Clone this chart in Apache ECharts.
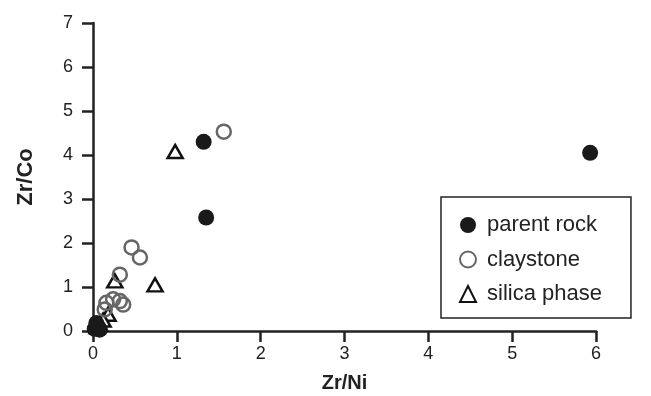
<!DOCTYPE html>
<html><head><meta charset="utf-8">
<script src="https://cdn.jsdelivr.net/npm/echarts@6/dist/echarts.min.js"></script>
<style>html,body{margin:0;padding:0;background:#fff}#c{width:651px;height:396px}</style>
</head><body><div id="c"></div>
<script>
const xTitle = 'Zr/Ni';
const yTitle = 'Zr/Co';
const seriesNames = ['parent rock', 'claystone', 'silica phase'];
const parentRock = [[1.32,4.30],[1.35,2.58],[5.93,4.05],[0.02,0.05],[0.06,0.10],[0.04,0.18],[0.08,0.03]];
const claystone = [[1.56,4.53],[0.46,1.90],[0.56,1.67],[0.32,1.28],[0.16,0.64],[0.24,0.72],[0.32,0.68],[0.36,0.60],[0.14,0.49]];
const silicaPhase = [[0.98,4.08],[0.26,1.14],[0.74,1.05],[0.18,0.38],[0.12,0.25],[0.08,0.15],[0.05,0.10]];
const xTicks = {min:0, max:6, interval:1};
const yTicks = {min:0, max:7, interval:1};

const font = 'Liberation Sans, Arial, sans-serif';
const axisCommon = {
  axisLine:{show:true,onZero:false,lineStyle:{color:'#222',width:2.5}},
  axisTick:{show:true,inside:false,length:11,lineStyle:{color:'#222',width:2.5}},
  splitLine:{show:false},
  axisLabel:{fontFamily:font,fontSize:18,color:'#222'}
};
const chart = echarts.init(document.getElementById('c'));
chart.setOption({
  animation:false,
  backgroundColor:'#fff',
  grid:{left:93,right:55,top:23,bottom:65,containLabel:false,outerBoundsMode:'none'},
  xAxis:Object.assign({}, axisCommon, {type:'value',min:xTicks.min,max:xTicks.max,interval:xTicks.interval,
    name:xTitle,nameLocation:'middle',nameGap:42,
    nameTextStyle:{fontFamily:font,fontSize:20,fontWeight:'bold',color:'#222'},
    axisLabel:Object.assign({},axisCommon.axisLabel,{margin:14})}),
  yAxis:Object.assign({}, axisCommon, {type:'value',min:yTicks.min,max:yTicks.max,interval:yTicks.interval,
    name:yTitle,nameLocation:'middle',nameGap:56,
    nameTextStyle:{fontFamily:font,fontSize:22,fontWeight:'bold',color:'#222'},
    axisLabel:Object.assign({},axisCommon.axisLabel,{margin:20})}),
  legend:{
    data:seriesNames, orient:'vertical', left:441, top:197,
    padding:[17,29,13,18], itemGap:12.5, itemWidth:16, itemHeight:16,
    borderColor:'#222', borderWidth:1.5,
    textStyle:{fontFamily:font,fontSize:22,color:'#222',padding:[0,0,0,6]}
  },
  series:[
    {name:'silica phase',type:'scatter',data:silicaPhase,symbol:'triangle',symbolSize:[15,13],
     itemStyle:{color:'#fff',borderColor:'#111',borderWidth:2.5,opacity:1}},
    {name:'claystone',type:'scatter',data:claystone,symbol:'circle',symbolSize:14,
     itemStyle:{color:'rgba(255,255,255,0)',borderColor:'#666',borderWidth:2.5,opacity:1}},
    {name:'parent rock',type:'scatter',data:parentRock,symbol:'circle',symbolSize:16,
     itemStyle:{color:'#1a1a1a',opacity:1}}
  ]
});
</script></body></html>
